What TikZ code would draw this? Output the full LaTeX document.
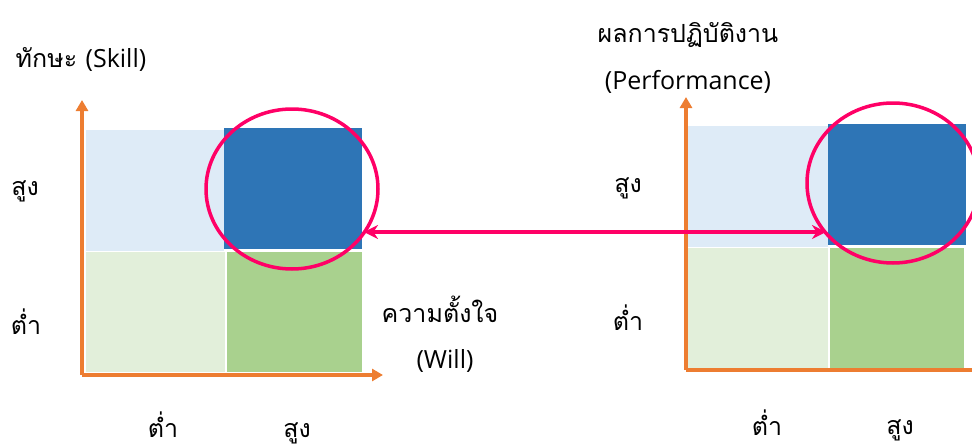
\documentclass[tikz,border=0pt]{standalone}
\usepackage{fontspec}
\setmainfont[Script=Thai]{Loma}
\newfontfamily\latinf{Open Sans}
\usetikzlibrary{arrows.meta,shapes.geometric}
\definecolor{dblue}{HTML}{2E75B6}
\definecolor{lblue}{HTML}{DEEBF7}
\definecolor{lgreen}{HTML}{E2EFDA}
\definecolor{mgreen}{HTML}{A9D18E}
\definecolor{axisor}{HTML}{ED7D31}
\definecolor{hpink}{HTML}{FF0066}
\tikzset{
  lbl/.style={anchor=base, inner sep=0pt, font=\fontsize{25}{30}\selectfont, text=black},
  axisline/.style={draw=axisor, line width=4pt, -{Triangle[length=11pt,width=12pt]}},
  ring/.style={ellipse, draw=hpink, line width=3.5pt, inner sep=0pt, minimum width=172pt, minimum height=160pt},
  link/.style={draw=hpink, line width=4pt, {Stealth[length=14pt,width=14pt]}-{Stealth[length=14pt,width=14pt]}}
}
\begin{document}
\begin{tikzpicture}[x=1pt,y=-1pt]
\useasboundingbox (0,0) rectangle (972,447);
\clip (0,0) rectangle (972,447);
% left chart cells
\fill[lblue] (86,130) rectangle (224,251);
\fill[lgreen] (86,252) rectangle (225,372);
\fill[mgreen] (227,252) rectangle (362,372);
\fill[dblue] (224,128) rectangle (362,249);
% left axes
\coordinate (lo) at (82,375);
\coordinate (ly) at (82,100);
\coordinate (lx) at (383,375);
\draw[axisline] (lo) -- (ly);
\draw[axisline] (lo) -- (lx);
% right chart cells
\fill[lblue] (688,126) rectangle (828,247);
\fill[lgreen] (688,248) rectangle (828,368);
\fill[mgreen] (830,248) rectangle (964,368);
\fill[dblue] (828,124) rectangle (966,245);
% right axes
\coordinate (ro) at (686,370);
\coordinate (ry) at (686,97);
\coordinate (rx) at (990,370);
\draw[axisline] (ro) -- (ry);
\draw[draw=axisor, line width=4pt] (ro) -- (rx);
% rings
\node[ring] (c1) at (292,189) {};
\node[ring] (c2) at (893,183) {};
\coordinate (a1) at (364,232);
\coordinate (a2) at (826,232);
\draw[link] (a1) -- (a2);
% left labels
\node[lbl] (t1) at (81,67) {ทักษะ {\latinf(Skill)}};
\node[lbl] (ls1) at (25,195) {สูง};
\node[lbl] (ll1) at (26,334) {ต่ำ};
\node[lbl] (lb1) at (163,437) {ต่ำ};
\node[lbl] (lb2) at (297,437) {สูง};
\node[lbl] (w1) at (440,322) {ความตั้งใจ};
\node[lbl] (w2) at (445,368) {\latinf(Will)};
% right labels
\node[lbl] (t2) at (688,42) {ผลการปฏิบัติงาน};
\node[lbl] (t3) at (688,89) {\latinf(Performance)};
\node[lbl] (rs1) at (628,192) {สูง};
\node[lbl] (rl1) at (628,330) {ต่ำ};
\node[lbl] (rb1) at (767,435) {ต่ำ};
\node[lbl] (rb2) at (900,434) {สูง};
\end{tikzpicture}
\end{document}
